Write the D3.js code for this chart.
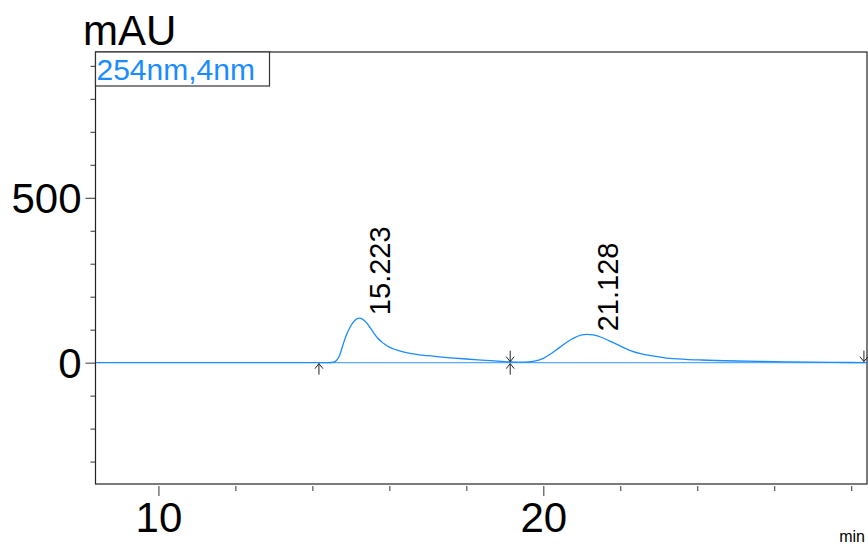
<!DOCTYPE html>
<html>
<head>
<meta charset="utf-8">
<script src="https://cdn.jsdelivr.net/npm/d3@7"></script>
<style>
  html, body { margin: 0; padding: 0; background: #fff; }
  svg { display: block; font-family: "Liberation Sans", Arial, sans-serif; }
</style>
</head>
<body>
<svg id="chart" width="868" height="547"></svg>
<script>
// ---- data ----
const times = [8.38, 10, 12, 14, 14.4, 14.5, 14.6, 14.7, 14.8, 14.9, 15.0, 15.1, 15.223, 15.3, 15.4, 15.5, 15.6, 15.7, 15.8, 15.9, 16.0, 16.2, 16.5, 17.0, 17.5, 18.0, 18.5, 19.0, 19.14,
               19.5, 19.74, 20.0, 20.2, 20.4, 20.6, 20.8, 21.0, 21.128, 21.3, 21.5, 21.7, 21.9, 22.1, 22.3, 22.5, 22.8, 23.2, 23.7, 24.1, 25.0, 26.0, 27.0, 28.0, 28.41];
const absorbance = [0, 0, 0, 0, 0, 0.5, 4, 20, 56, 88, 112, 128, 135, 132, 122, 106, 89, 74, 63, 54, 47, 38, 29, 21, 15.5, 11, 7, 3, 2,
                    1.5, 4, 13, 27, 44, 61, 75, 84, 86, 84, 77, 67, 56, 45, 35, 28, 21, 14, 10, 8, 5, 3, 1.5, 0.5, 0];
const peakTimes = [15.223, 21.128];
const peakHeights = [135, 86];
const peakLabels = ["15.223", "21.128"];
const markerTimes = [14.17, 19.14, 28.33];
const markerTypes = ["up", "both", "down"];
const baselineSegments = [[14.17, 19.14], [19.14, 28.33]];
const xMajorTicks = [10, 20];
const xMinorTicks = [12, 14, 16, 18, 22, 24, 26, 28];
const yMajorTicks = [0, 500];
const yMinorTicks = [-300, -200, -100, 100, 200, 300, 400, 600, 700, 800, 900];
const legendText = "254nm,4nm";
const yUnit = "mAU";
const xUnit = "min";

// ---- layout ----
const L = 95.5, R = 867, T = 52, B = 484;
const blue = "#1a8cff";
const svg = d3.select("#chart");

const x = d3.scaleLinear().domain([8.365, 28.41]).range([L, R]);
const y = d3.scaleLinear().domain([-368, 942]).range([B, T]);

// frame
svg.append("rect").attr("x", L).attr("y", T).attr("width", R - L).attr("height", B - T)
  .attr("fill", "none").attr("stroke", "#222").attr("stroke-width", 1.2);

// y axis ticks
const yAxisMajor = d3.axisLeft(y).tickValues(yMajorTicks).tickSize(10).tickPadding(4).tickFormat(d3.format("d"));
const gy = svg.append("g").attr("transform", `translate(${L},0)`).call(yAxisMajor);
gy.select(".domain").remove();
gy.selectAll("line").attr("stroke", "#333");
gy.selectAll("text").attr("font-size", 42).attr("fill", "#000").attr("dy", "0.36em");
const gyMinor = svg.append("g").attr("transform", `translate(${L},0)`)
  .call(d3.axisLeft(y).tickValues(yMinorTicks).tickSize(5).tickFormat(""));
gyMinor.select(".domain").remove();
gyMinor.selectAll("line").attr("stroke", "#333");

// x axis ticks
const gx = svg.append("g").attr("transform", `translate(0,${B + 2})`)
  .call(d3.axisBottom(x).tickValues(xMajorTicks).tickSize(10).tickPadding(6).tickFormat(d3.format("d")));
gx.select(".domain").remove();
gx.selectAll("line").attr("stroke", "#333");
gx.selectAll("text").attr("font-size", 42).attr("fill", "#000").attr("dy", "0.71em");
const gxMinor = svg.append("g").attr("transform", `translate(0,${B + 2})`)
  .call(d3.axisBottom(x).tickValues(xMinorTicks).tickSize(5).tickFormat(""));
gxMinor.select(".domain").remove();
gxMinor.selectAll("line").attr("stroke", "#333");

// unit labels
svg.append("text").attr("x", 83).attr("y", 45).attr("font-size", 42).attr("fill", "#000").text(yUnit);
svg.append("text").attr("x", 865).attr("y", 542).attr("text-anchor", "end").attr("font-size", 16).attr("fill", "#000").text(xUnit);

// baseline segments
baselineSegments.forEach(s => {
  svg.append("line").attr("x1", x(s[0])).attr("x2", x(s[1])).attr("y1", y(0)).attr("y2", y(0))
    .attr("stroke", "#5aaaff").attr("stroke-width", 1.2);
});

// chromatogram
const pts = times.map((t, i) => [t, absorbance[i]]);
svg.append("path").datum(pts)
  .attr("d", d3.line().x(d => x(d[0])).y(d => y(d[1])).curve(d3.curveMonotoneX))
  .attr("fill", "none").attr("stroke", blue).attr("stroke-width", 1.3);

// integration markers
markerTimes.forEach((t, i) => {
  const mx = x(t), my = y(0), type = markerTypes[i];
  const g = svg.append("g").attr("stroke", "#222").attr("stroke-width", 1).attr("fill", "none");
  if (type === "up" || type === "both") {
    g.append("path").attr("d", `M${mx},${my + 12} L${mx},${my + 1} M${mx - 4},${my + 6} L${mx},${my + 1} L${mx + 4},${my + 6}`);
  }
  if (type === "down" || type === "both") {
    g.append("path").attr("d", `M${mx},${my - 12} L${mx},${my - 1} M${mx - 4},${my - 6} L${mx},${my - 1} L${mx + 4},${my - 6}`);
  }
});

// peak labels
peakTimes.forEach((t, i) => {
  const px = x(t) + 31, py = y(peakHeights[i]) - 3;
  svg.append("text").attr("transform", `translate(${px},${py}) rotate(-90)`)
    .attr("font-size", 29).attr("fill", "#000").text(peakLabels[i]);
});

// legend box
svg.append("rect").attr("x", L).attr("y", T).attr("width", 174).attr("height", 34)
  .attr("fill", "#fff").attr("stroke", "#333").attr("stroke-width", 1.2);
svg.append("text").attr("x", L + 1).attr("y", T + 28).attr("font-size", 30).attr("fill", blue).text(legendText);
</script>
</body>
</html>
